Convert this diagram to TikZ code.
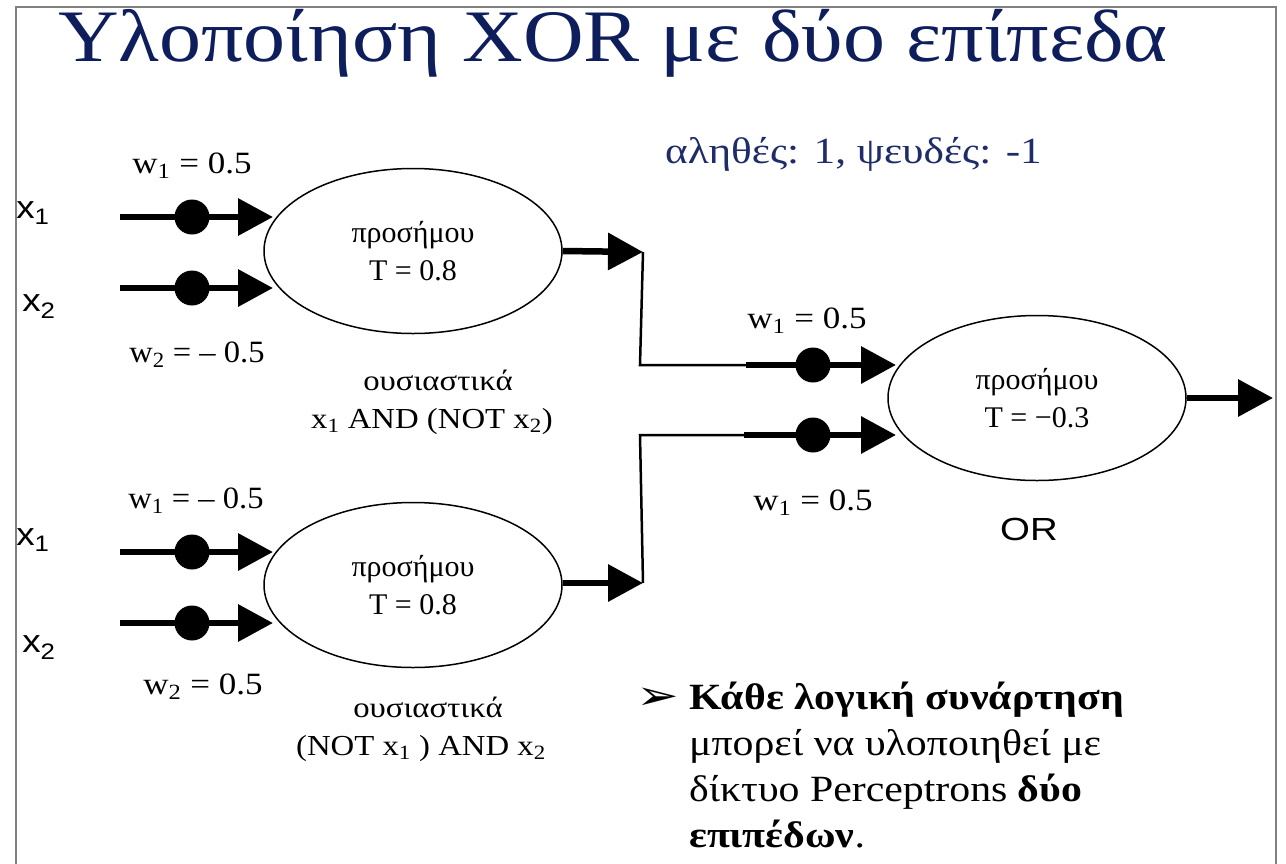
\documentclass[tikz,border=0pt]{standalone}
\usepackage{fontspec}
\usepackage{graphicx}
\setmainfont{Liberation Serif}
\newfontfamily\sansf{Liberation Sans}
\newfontfamily\djv{DejaVu Sans}
\usetikzlibrary{arrows.meta,shapes.geometric}
\definecolor{titleblue}{RGB}{14,30,92}
\definecolor{noteblue}{RGB}{30,45,105}
\definecolor{framegray}{RGB}{128,128,128}
\newcommand\sbx[1]{\textsubscript{#1}}
\newcommand\hstretch[2]{\scalebox{#1}[1]{#2}}
\begin{document}
\begin{tikzpicture}[x=1pt,y=-1pt,
  percnode/.style={ellipse, draw, line width=1.5pt, minimum width=298pt, minimum height=165pt, inner sep=0pt, align=center, font=\fontsize{30}{38}\selectfont},
  thickarrow/.style={line width=6.5pt, -{Triangle[length=35pt,width=36pt]}},
  thinline/.style={line width=2.5pt},
  dotnode/.style={circle, fill=black, minimum size=35pt, inner sep=0pt},
  wlabel/.style={font=\fontsize{31}{36}\selectfont, anchor=base, inner sep=0pt},
  inlabel/.style={font=\sansf\fontsize{32}{36}\selectfont, inner sep=0pt},
  explabel/.style={font=\fontsize{29}{34}\selectfont, anchor=base, inner sep=0pt},
  ]
\useasboundingbox (0,0) rectangle (1286,863);
\fill[white] (0,0) rectangle (1286,863);
% frame
\draw[framegray, line width=2.5pt] (16,880) -- (16,7) -- (1276,7) -- (1276,880);

% title
\node[anchor=base, inner sep=0pt, font=\fontsize{74}{80}\selectfont, text=titleblue] (title) at (613,61) {\hstretch{1.135}{Υλοποίηση XOR με δύο επίπεδα}};
\node[anchor=base west, inner sep=0pt, font=\fontsize{37}{42}\selectfont, text=noteblue] (note) at (665,163) {\hstretch{1.17}{αληθές: 1, ψευδές: -1}};

% perceptrons
\node[percnode] (e1) at (413,251) {προσήμου\\T = 0.8};
\node[percnode] (e2) at (413,585) {προσήμου\\T = 0.8};
\node[percnode] (e3) at (1037,398) {προσήμου\\T = −0.3};

% input labels
\node[inlabel] (x1a) at (33,213) {\hstretch{1.15}{x\sbx{1}}};
\node[inlabel] (x2a) at (39,307) {\hstretch{1.15}{x\sbx{2}}};
\node[inlabel] (x1b) at (33,540) {\hstretch{1.15}{x\sbx{1}}};
\node[inlabel] (x2b) at (39,648) {\hstretch{1.15}{x\sbx{2}}};

% weight labels
\node[wlabel] (w1a) at (192,173) {\hstretch{1.13}{w\sbx{1} = 0.5}};
\node[wlabel] (w2a) at (197,362) {\hstretch{1.05}{w\sbx{2} = – 0.5}};
\node[wlabel] (w1b) at (196,508) {\hstretch{1.05}{w\sbx{1} = – 0.5}};
\node[wlabel] (w2b) at (203,694) {\hstretch{1.13}{w\sbx{2} = 0.5}};
\node[wlabel] (w1c) at (807,328) {\hstretch{1.13}{w\sbx{1} = 0.5}};
\node[wlabel] (w1d) at (813,510) {\hstretch{1.13}{w\sbx{1} = 0.5}};

% explanation labels
\node[explabel] (ous1) at (438,390) {\hstretch{1.13}{ουσιαστικά}};
\node[explabel] (and1) at (432,428) {\hstretch{1.13}{x\sbx{1} AND (NOT x\sbx{2})}};
\node[explabel] (ous2) at (428,717) {\hstretch{1.13}{ουσιαστικά}};
\node[explabel] (and2) at (421,755) {\hstretch{1.13}{(NOT x\sbx{1} ) AND x\sbx{2}}};
\node[anchor=base, inner sep=0pt, font=\sansf\fontsize{32}{36}\selectfont] (orlab) at (1029,540) {\hstretch{1.2}{OR}};

% coordinates
\coordinate (a1s) at (120,217); \coordinate (a1t) at (273,217);
\coordinate (a2s) at (120,288); \coordinate (a2t) at (273,288);
\coordinate (b1s) at (120,552); \coordinate (b1t) at (273,552);
\coordinate (b2s) at (120,623); \coordinate (b2t) at (273,623);
\coordinate (o1t) at (643,252); \coordinate (o2t) at (643,583);
\coordinate (k1) at (640,365); \coordinate (m1) at (746,365); \coordinate (c1t) at (896,365);
\coordinate (k2) at (640,435); \coordinate (m2) at (744,435); \coordinate (c2t) at (896,435);
\coordinate (outt) at (1273,398);

% first layer inputs
\draw[thickarrow] (a1s) -- (a1t);
\draw[thickarrow] (a2s) -- (a2t);
\draw[thickarrow] (b1s) -- (b1t);
\draw[thickarrow] (b2s) -- (b2t);
\node[dotnode] (da1) at (192,217) {};
\node[dotnode] (da2) at (192,288) {};
\node[dotnode] (db1) at (192,552) {};
\node[dotnode] (db2) at (192,623) {};

% first layer outputs
\draw[thickarrow] (e1.east) -- (o1t);
\draw[thickarrow] (e2.east |- o2t) -- (o2t);
\draw[thinline] (o1t) -- (k1) -- (m1);
\draw[thinline] (o2t) -- (k2) -- (m2);

% second layer inputs
\draw[thickarrow] (m1) -- (c1t);
\draw[thickarrow] (m2) -- (c2t);
\node[dotnode] (dc1) at (813,365) {};
\node[dotnode] (dc2) at (813,435) {};

% output
\draw[thickarrow] (e3.east) -- (outt);

% bullet text
\node[anchor=base east, inner sep=0pt, font=\djv\fontsize{30}{36}\selectfont] (bul) at (679,709) {\scalebox{1.7}[1.35]{➢}};
\node[anchor=north west, inner sep=0pt, align=left, font=\fontsize{37}{46}\selectfont] (body) at (689,682)
  {\hstretch{1.13}{\textbf{Κάθε λογική συνάρτηση}}\\ \hstretch{1.13}{μπορεί να υλοποιηθεί με}\\ \hstretch{1.13}{δίκτυο Perceptrons \textbf{δύο}}\\ \hstretch{1.13}{\textbf{επιπέδων}.}};
\end{tikzpicture}
\end{document}
